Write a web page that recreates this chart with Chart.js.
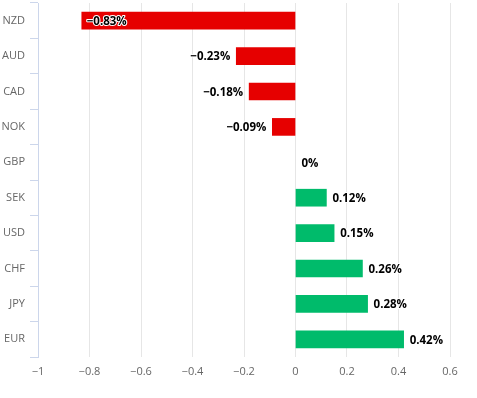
<!DOCTYPE html>
<html><head><meta charset="utf-8">
<script src="https://cdn.jsdelivr.net/npm/chart.js@4"></script>
<style>html,body{margin:0;padding:0;background:#fff}#wrap{width:477px;height:398px;position:relative}</style>
</head><body><div id="wrap"><canvas id="c"></canvas></div>
<script>
const categories = ['NZD','AUD','CAD','NOK','GBP','SEK','USD','CHF','JPY','EUR'];
const values = [-0.83,-0.23,-0.18,-0.09,0,0.12,0.15,0.26,0.28,0.42];
const xMin = -1, xMax = 0.6, xStep = 0.2;

const RED = '#e60000', GREEN = '#00bb6b';
function fmt(v, d){ const r = Math.round(Math.abs(v)*Math.pow(10,d))/Math.pow(10,d); return (v < 0 && r !== 0 ? '\u2212' : '') + r; }

const labelPlugin = {
  id: 'lbl',
  afterDatasetsDraw(chart){
    const ctx = chart.ctx, meta = chart.getDatasetMeta(0), area = chart.chartArea;
    ctx.save();
    ctx.font = 'bold 11.5px "Open Sans"';
    ctx.textBaseline = 'middle';
    ctx.lineJoin = 'round';
    meta.data.forEach((bar, i) => {
      const v = values[i];
      const t = fmt(v, 2) + '%';
      const w = ctx.measureText(t).width;
      let x, align;
      if (v >= 0) { x = bar.x + 6; align = 'left'; }
      else {
        x = bar.x - 6; align = 'right';
        if (x - w < area.left) { x = bar.x + 5; align = 'left'; }
      }
      ctx.textAlign = align;
      ctx.strokeStyle = '#ffffff'; ctx.lineWidth = 2;
      ctx.strokeText(t, x, bar.y + 1);
      ctx.fillStyle = '#000000';
      ctx.fillText(t, x, bar.y + 1);
    });
    ctx.restore();
  }
};

new Chart(document.getElementById('c'), {
  type: 'bar',
  data: {
    labels: categories,
    datasets: [{
      data: values,
      backgroundColor: values.map(v => v < 0 ? RED : (v > 0 ? GREEN : 'rgba(0,0,0,0)')),
      borderWidth: 0,
      barThickness: 17
    }]
  },
  options: {
    indexAxis: 'y',
    responsive: true,
    maintainAspectRatio: false,
    animation: false,
    layout: { padding: { top: 3, right: 27, left: 0, bottom: 0 } },
    plugins: { legend: { display: false }, tooltip: { enabled: false } },
    scales: {
      y: {
        type: 'category',
        grid: { offset: true, drawOnChartArea: false, tickLength: 8, color: '#ccd6eb' },
        border: { color: '#ccd6eb' },
        ticks: { color: '#666666', font: { family: '"Open Sans"', size: 11 }, padding: 5 },
        afterFit(s){ s.width = 38; s.paddingTop = 0; s.paddingBottom = 0; }
      },
      x: {
        min: xMin, max: xMax,
        grid: { color: '#e6e6e6', drawTicks: false },
        border: { display: false },
        ticks: { stepSize: xStep, color: '#666666', font: { family: '"Open Sans"', size: 11 }, padding: 8,
          callback: v => fmt(v, 1) },
        afterFit(s){ s.height = 41; s.paddingLeft = 0; s.paddingRight = 0; }
      }
    }
  },
  plugins: [labelPlugin]
});
</script>
</body></html>
